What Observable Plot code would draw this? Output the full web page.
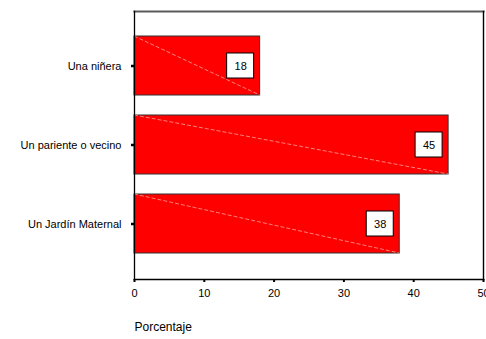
<!DOCTYPE html>
<html>
<head>
<meta charset="utf-8">
<script src="https://cdn.jsdelivr.net/npm/d3@7"></script>
<script src="https://cdn.jsdelivr.net/npm/@observablehq/plot@0.6"></script>
<style>
  html, body { margin: 0; padding: 0; background: #fff; }
  svg { display: block; }
</style>
</head>
<body>
<div id="chart"></div>
<script>
// Who takes care of the children: share of responses (%)
const categories = ["Una niñera", "Un pariente o vecino", "Un Jardín Maternal"];
const values = [18, 45, 38];
const xTicks = [0, 10, 20, 30, 40, 50];
const axisTitle = "Porcentaje";

const data = categories.map((c, i) => ({category: c, value: values[i]}));

// Faint diagonal across each bar, from its top-left to bottom-right corner
function diagonals(index, scales) {
  const g = d3.create("svg:g");
  const bw = scales.y.bandwidth();
  for (const d of data) {
    const y0 = scales.y(d.category);
    g.append("line")
      .attr("x1", scales.x(0))
      .attr("y1", y0)
      .attr("x2", scales.x(d.value))
      .attr("y2", y0 + bw)
      .attr("stroke", "#ffb4b4")
      .attr("stroke-width", 0.7)
      .attr("stroke-dasharray", "4,2");
  }
  return g.node();
}

const chart = Plot.plot({
  width: 486,
  height: 339,
  marginLeft: 134,
  marginRight: 3,
  marginTop: 11,
  marginBottom: 60,
  style: {fontFamily: "'Liberation Sans', Arial, sans-serif", fontSize: "11px", background: "#fff", color: "#000"},
  x: {domain: [0, 50]},
  y: {domain: categories, paddingInner: 0.25, paddingOuter: 0.32},
  marks: [
    Plot.barX(data, {x: "value", y: "category", fill: "#ff0000", stroke: "#333", strokeWidth: 1}),
    diagonals,
    Plot.barX(data, {x1: "value", x2: "value", y: "category", fill: "#fff", stroke: "#000", strokeWidth: 1,
      insetLeft: -33, insetRight: 6, insetTop: 17, insetBottom: 17}),
    Plot.text(data, {x: "value", y: "category", text: d => String(d.value), dx: -19.5, fontSize: 11, fill: "#000"}),
    Plot.axisY({tickSize: 3, tickPadding: 10, strokeWidth: 2.5, fontSize: 11, label: null}),
    Plot.axisX({ticks: xTicks, tickFormat: d => String(d), tickSize: 3, tickPadding: 7, strokeWidth: 2, fontSize: 11, label: null}),
    Plot.text([axisTitle], {frameAnchor: "bottom-left", dy: 51, textAnchor: "start", fontSize: 12, fill: "#000"}),
    // plot border: grey top, black on the other three sides
    Plot.frame({anchor: "top", stroke: "#5a5a5a", strokeWidth: 2.2}),
    Plot.frame({anchor: "right", stroke: "#000", strokeWidth: 1.4}),
    Plot.frame({anchor: "left", stroke: "#000", strokeWidth: 1.3}),
    Plot.frame({anchor: "bottom", stroke: "#000", strokeWidth: 1.6})
  ]
});

document.getElementById("chart").append(chart);
</script>
</body>
</html>
